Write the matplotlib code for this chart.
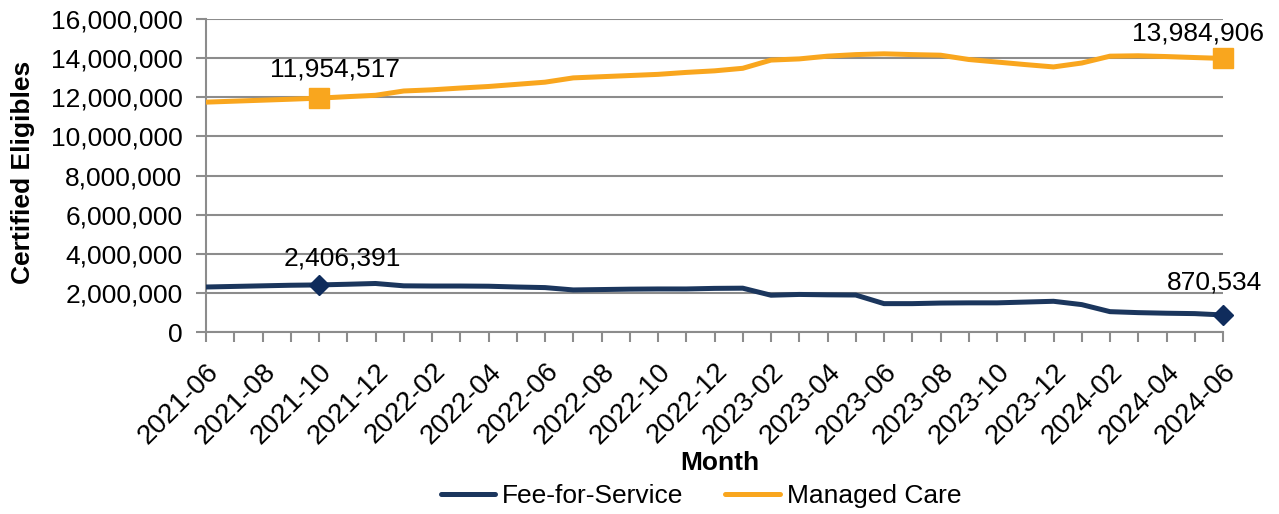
import matplotlib
matplotlib.use("Agg")
import matplotlib.pyplot as plt
from matplotlib.ticker import FuncFormatter

plt.rcParams['font.family'] = ['Liberation Sans', 'DejaVu Sans']

months = ["2021-06", "2021-07", "2021-08", "2021-09", "2021-10", "2021-11", "2021-12",
          "2022-01", "2022-02", "2022-03", "2022-04", "2022-05", "2022-06", "2022-07",
          "2022-08", "2022-09", "2022-10", "2022-11", "2022-12", "2023-01", "2023-02",
          "2023-03", "2023-04", "2023-05", "2023-06", "2023-07", "2023-08", "2023-09",
          "2023-10", "2023-11", "2023-12", "2024-01", "2024-02", "2024-03", "2024-04",
          "2024-05", "2024-06"]

managed_care = [11750000, 11800000, 11850000, 11900000, 11954517, 12030000, 12100000,
                12320000, 12380000, 12470000, 12550000, 12660000, 12770000, 12990000,
                13050000, 13110000, 13170000, 13270000, 13350000, 13480000, 13900000,
                13960000, 14100000, 14180000, 14220000, 14180000, 14150000, 13930000,
                13800000, 13670000, 13550000, 13750000, 14100000, 14120000, 14080000,
                14030000, 13984906]

fee_for_service = [2300000, 2330000, 2360000, 2390000, 2406391, 2440000, 2480000,
                   2360000, 2350000, 2350000, 2340000, 2300000, 2270000, 2150000,
                   2170000, 2190000, 2200000, 2200000, 2230000, 2240000, 1880000,
                   1920000, 1900000, 1890000, 1450000, 1450000, 1480000, 1490000,
                   1490000, 1530000, 1570000, 1400000, 1040000, 990000, 960000,
                   940000, 870534]

yticks = [0, 2000000, 4000000, 6000000, 8000000, 10000000, 12000000, 14000000, 16000000]

ffs_color = '#1B365D'
ffs_marker = '#0F2C5C'
mc_color = '#F9A61E'
grid_color = '#8C8C8C'

fig = plt.figure(figsize=(12.79, 5.14), dpi=100)
ax = fig.add_axes([206/1279, 1 - 332/514, (1223 - 206)/1279, (332 - 19)/514])

x = list(range(len(months)))
ax.plot(x, fee_for_service, color=ffs_color, lw=3.6, label='Fee-for-Service', zorder=3,
        solid_joinstyle='round', solid_capstyle='round')
ax.plot(x, managed_care, color=mc_color, lw=3.6, label='Managed Care', zorder=3,
        solid_joinstyle='round', solid_capstyle='round')

# highlighted markers
for i in (4, 36):
    ax.plot(x[i], managed_care[i], marker='s', ms=14, color=mc_color, zorder=4, clip_on=False)
    ax.plot(x[i], fee_for_service[i], marker='D', ms=10.5, color=ffs_marker, zorder=4, clip_on=False)

fmt = lambda v: f"{v:,.0f}"
ax.annotate(fmt(managed_care[4]), (x[4], managed_care[4]), xytext=(16, 29),
            textcoords='offset pixels', ha='center', va='center', fontsize=19)
ax.annotate(fmt(managed_care[36]), (x[36], managed_care[36]), xytext=(-25, 25),
            textcoords='offset pixels', ha='center', va='center', fontsize=19)
ax.annotate(fmt(fee_for_service[4]), (x[4], fee_for_service[4]), xytext=(23, 26),
            textcoords='offset pixels', ha='center', va='center', fontsize=19)
ax.annotate(fmt(fee_for_service[36]), (x[36], fee_for_service[36]), xytext=(-9, 32),
            textcoords='offset pixels', ha='center', va='center', fontsize=19)

ax.set_xlim(0, len(months) - 1)
ax.set_ylim(0, 16000000)
ax.set_yticks(yticks)
ax.yaxis.set_major_formatter(FuncFormatter(lambda v, p: f"{v:,.0f}"))
ax.set_xticks(x)
ax.set_xticklabels([m if i % 2 == 0 else '' for i, m in enumerate(months)],
                   rotation=45, ha='right', rotation_mode='anchor')

ax.grid(axis='y', color=grid_color, lw=1.5, zorder=1)
ax.set_axisbelow(True)
for s in ('top', 'right'):
    ax.spines[s].set_visible(False)
for s in ('left', 'bottom'):
    ax.spines[s].set_color(grid_color)
    ax.spines[s].set_linewidth(1.5)
ax.tick_params(axis='both', colors=grid_color, labelcolor='black',
               length=7, width=1.5, direction='out')
ax.tick_params(axis='y', labelsize=19, pad=10)
ax.tick_params(axis='x', labelsize=20, pad=12)

fig.text(23/1279, 1 - 172/514, 'Certified Eligibles', rotation=90, ha='center', va='center',
         fontsize=19, fontweight='bold')
fig.text(720/1279, 1 - 463/514, 'Month', ha='center', va='center',
         fontsize=19, fontweight='bold')

fig.legend(loc='center', bbox_to_anchor=(0.548, 1 - 496/514), ncol=2, frameon=False,
           fontsize=19, handlelength=2.05, columnspacing=1.6, handletextpad=0.27)

fig.savefig('out.png', dpi=100)
